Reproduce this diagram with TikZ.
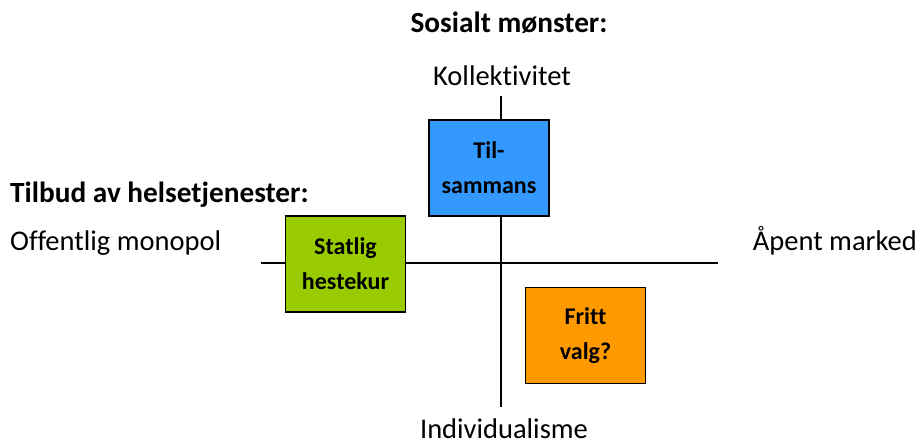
\documentclass[tikz,border=0pt]{standalone}
\usepackage{fontspec}
\setmainfont{Carlito}[Ligatures=NoCommon]
\usetikzlibrary{positioning}
\definecolor{boxblue}{RGB}{51,153,255}
\definecolor{boxgreen}{RGB}{153,204,0}
\definecolor{boxorange}{RGB}{255,153,0}

\begin{document}
\begin{tikzpicture}[x=1pt, y=-1pt, font=\fontsize{28.5}{34}\selectfont,
		quadbox/.style={draw, line width=1.3pt, minimum width=120pt, minimum height=96pt, inner sep=0pt, align=center, font=\fontsize{24}{35}\selectfont\bfseries},
		axislabel/.style={inner sep=0pt},
		axistitle/.style={inner sep=0pt, font=\fontsize{29.3}{34}\selectfont\bfseries},
		axisline/.style={line width=1.3pt}]
		\useasboundingbox (0,0) rectangle (918,444);
		
		\node[axistitle, anchor=base] (socialtitle) at (509,33) {Sosialt mønster:};
		\node[axislabel, anchor=base] (collective) at (502,85) {Kollektivitet};
		\node[axislabel, anchor=base] (individual) at (504,438) {Individualisme};
		
		\node[axistitle, anchor=base west] (supplytitle) at (10,202) {Tilbud av helsetjenester:};
		\node[axislabel, anchor=base west] (monopoly) at (10,250) {Offentlig monopol};
		\node[axislabel, anchor=base east] (market) at (917,250) {Åpent marked};
		
		\coordinate (axtop) at (501,96);
		\coordinate (axbottom) at (501,407);
		\coordinate (axleft) at (261,263);
		\coordinate (axright) at (718,263);
		\draw[axisline] (axtop) -- (axbottom);
		\draw[axisline] (axleft) -- (axright);
		
		\node[quadbox, fill=boxblue] (together) at (489,168) {Til-\\sammans};
		\node[quadbox, fill=boxgreen] (state) at (345.5,264) {Statlig\\hestekur};
		\node[quadbox, fill=boxorange] (freechoice) at (585.5,335.5) {Fritt\\valg?};
	\end{tikzpicture}
\end{document}
